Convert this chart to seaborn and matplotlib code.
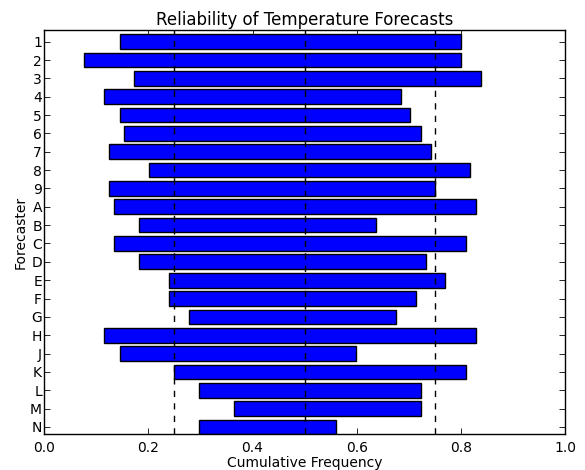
import numpy as np
import pandas as pd
import matplotlib
matplotlib.use("Agg")
import matplotlib.pyplot as plt
import seaborn as sns

forecasters = ["1", "2", "3", "4", "5", "6", "7", "8", "9", "A", "B",
               "C", "D", "E", "F", "G", "H", "J", "K", "L", "M", "N"]
lower = [0.145, 0.077, 0.173, 0.116, 0.145, 0.154, 0.125, 0.202, 0.125, 0.135, 0.183,
         0.135, 0.183, 0.240, 0.240, 0.279, 0.116, 0.145, 0.250, 0.298, 0.365, 0.298]
upper = [0.799, 0.799, 0.838, 0.684, 0.703, 0.723, 0.742, 0.818, 0.751, 0.828, 0.636,
         0.809, 0.732, 0.770, 0.713, 0.675, 0.828, 0.598, 0.809, 0.723, 0.723, 0.560]
ref_lines = [0.25, 0.5, 0.75]
xticks = [0.0, 0.2, 0.4, 0.6, 0.8, 1.0]

sns.set_style("ticks")
plt.rcParams.update({
    "font.family": ["DejaVu Sans"],
    "font.size": 10,
    "text.color": "black",
    "axes.labelcolor": "black",
    "xtick.direction": "in",
    "ytick.direction": "in",
    "xtick.top": True,
    "ytick.right": True,
    "xtick.major.size": 4,
    "ytick.major.size": 4,
    "xtick.major.width": 0.6,
    "ytick.major.width": 0.6,
    "xtick.major.pad": 5,
    "ytick.major.pad": 1.5,
    "xtick.color": "black",
    "ytick.color": "black",
    "axes.edgecolor": "black",
    "axes.linewidth": 1.0,
    "xtick.labelsize": 10,
    "ytick.labelsize": 10,
})

df = pd.DataFrame({"Forecaster": forecasters,
                   "lower": lower,
                   "upper": upper})
df["span"] = df["upper"] - df["lower"]

fig = plt.figure(figsize=(5.85, 4.7), dpi=100)
ax = fig.add_axes([0.0752, 0.076, 0.9663 - 0.0752, 0.9355 - 0.076])

sns.barplot(data=df, x="span", y="Forecaster", orient="h", color="#0000ff",
            saturation=1, edgecolor="black", linewidth=1.0, width=0.8, ax=ax)
for patch, lo in zip(ax.patches, df["lower"]):
    patch.set_x(lo)

for v in ref_lines:
    ax.axvline(v, color="black", linestyle=(0, (4.5, 4.5)), linewidth=1.0, zorder=5)

ax.set_xlim(0, 1.0)
ax.set_xticks(xticks)
ax.set_xticklabels([f"{t:.1f}" for t in xticks])
ax.set_ylim(21.4, -0.62)
ax.set_title("Reliability of Temperature Forecasts", fontsize=12, pad=4, color="black")
ax.set_xlabel("Cumulative Frequency", fontsize=10, labelpad=0.5, color="black")
ax.set_ylabel("Forecaster", fontsize=10, labelpad=2, color="black")
for s in ax.spines.values():
    s.set_visible(True)

fig.savefig("out.png", dpi=100)
